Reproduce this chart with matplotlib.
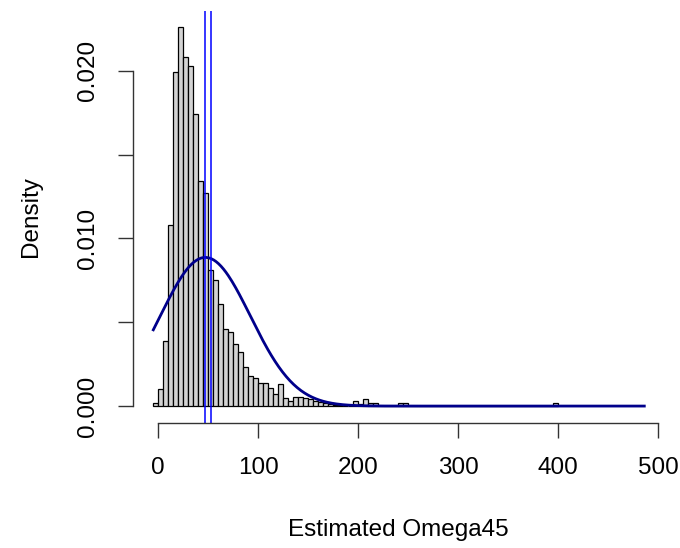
import numpy as np
import matplotlib
matplotlib.use('Agg')
import matplotlib.pyplot as plt

plt.rcParams['font.family'] = ['Liberation Sans', 'DejaVu Sans']

# histogram of estimated Omega45, bins of width 5 starting at -5
bin_start = -5
bin_width = 5
density = [0.0002, 0.0010, 0.0039, 0.0108, 0.0199, 0.0226, 0.0208, 0.0203,
           0.0174, 0.0134, 0.0127, 0.0081, 0.0075, 0.0061, 0.0046, 0.0044,
           0.0037, 0.0032, 0.0023, 0.0018, 0.0017, 0.0014, 0.0014, 0.0011,
           0.0007, 0.0013, 0.0005, 0.0003, 0.00055, 0.00055, 0.0005, 0.0004,
           0.0003, 0.00025, 0.0002, 0.0001, 0.00005, 0.00005, 0.0, 0.0,
           0.0003, 0.00015, 0.0004, 0.0002, 0.0002, 0.0, 0.0, 0.0,
           0.0, 0.0002, 0.0002, 0.0, 0.0, 0.0, 0.0, 0.0,
           0.0, 0.0, 0.0, 0.0, 0.0, 0.0, 0.0, 0.0,
           0.0, 0.0, 0.0, 0.0, 0.0, 0.0, 0.0, 0.0,
           0.0, 0.0, 0.0, 0.0, 0.0, 0.0, 0.0, 0.0,
           0.0002]

# fitted normal curve and reference lines
norm_mean = 47.0
norm_sd = 45.0
curve_from, curve_to = -5, 486
vlines = [47, 53]

x_ticks = [0, 100, 200, 300, 400, 500]
y_ticks = [0.0, 0.005, 0.010, 0.015, 0.020]
y_tick_labels = ['0.000', '', '0.010', '', '0.020']

W, H = 680, 548
fig = plt.figure(figsize=(W / 100, H / 100), dpi=100)
left, right, bottom, top = 133, 663, 423, 11
ax = fig.add_axes([left / W, 1 - bottom / H, (right - left) / W, (bottom - top) / H])

edges = bin_start + bin_width * np.arange(len(density))
ax.bar(edges, density, width=bin_width, align='edge', color='#D3D3D3',
       edgecolor='black', linewidth=0.9)

xs = np.linspace(curve_from, curve_to, 400)
ys = np.exp(-0.5 * ((xs - norm_mean) / norm_sd) ** 2) / (norm_sd * np.sqrt(2 * np.pi))
ax.plot(xs, ys, color='#00008B', lw=2)

for v in vlines:
    ax.axvline(v, color='blue', lw=1.1)

ax.set_xlim(-25.3, 504.7)
ax.set_ylim(-0.00101, 0.02356)

for s in ['top', 'right']:
    ax.spines[s].set_visible(False)
ax.spines['left'].set_bounds(0, 0.02)
ax.spines['bottom'].set_bounds(0, 500)
for s in ['left', 'bottom']:
    ax.spines[s].set_linewidth(1.0)
    ax.spines[s].set_color('#333333')

ax.set_xticks(x_ticks)
ax.set_xticklabels([str(t) for t in x_ticks])
ax.set_yticks(y_ticks)
ax.set_yticklabels(y_tick_labels, rotation=90, va='center')
ax.tick_params(axis='both', length=10.8, width=1.0, color='#333333', labelsize=17.5)
ax.tick_params(axis='x', pad=14)
ax.tick_params(axis='y', pad=14)

fig.text(398 / W, 1 - 530 / H, 'Estimated Omega45', ha='center', va='center', fontsize=17.5)
fig.text(31 / W, 1 - 217 / H, 'Density', ha='center', va='center', rotation=90, fontsize=17.5)

fig.savefig('out.png', dpi=100)
